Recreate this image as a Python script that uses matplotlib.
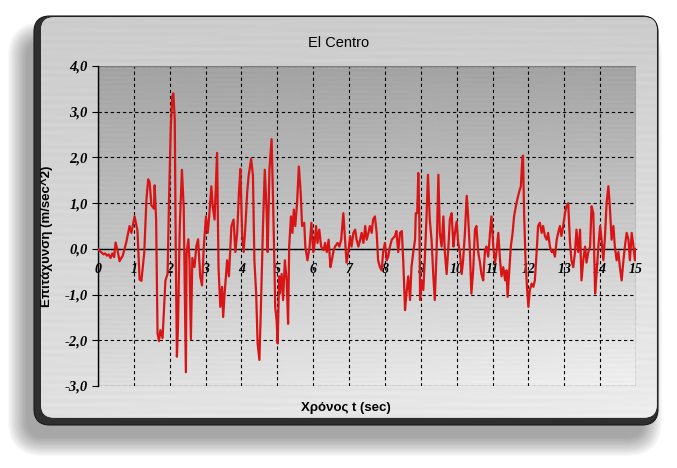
import numpy as np
import matplotlib
matplotlib.use('Agg')
import matplotlib.pyplot as plt
from matplotlib.patches import FancyBboxPatch, Rectangle

# %% Data (time in sec, acceleration in m/sec^2)
time_s = [0.0, 0.05, 0.1, 0.15, 0.2, 0.25, 0.3, 0.35, 0.4, 0.45, 0.49, 0.55, 0.6, 0.69, 0.79, 0.88, 0.93,
          1.02, 1.1, 1.16, 1.21, 1.29, 1.35, 1.4, 1.44, 1.49, 1.56, 1.58, 1.62, 1.66, 1.7, 1.74, 1.8, 1.84,
          1.88, 1.94, 1.98, 2.03, 2.07, 2.1, 2.14, 2.17, 2.2, 2.23, 2.28, 2.34, 2.39,
          2.45, 2.47, 2.52, 2.55, 2.59, 2.63, 2.69, 2.74, 2.79, 2.85, 2.9, 2.95, 3.01, 3.06, 3.1, 3.16,
          3.2, 3.25, 3.32, 3.36, 3.41, 3.46, 3.49, 3.53, 3.6, 3.65, 3.72, 3.78, 3.83, 3.88, 3.93, 3.97,
          4.02, 4.06, 4.11, 4.16, 4.2, 4.27, 4.32, 4.36, 4.41, 4.45, 4.5, 4.54, 4.6, 4.65, 4.7, 4.73,
          4.78, 4.84, 4.88, 4.92, 4.94,
          4.98, 5.01, 5.05, 5.07, 5.12, 5.16, 5.21, 5.26, 5.3, 5.33, 5.38, 5.42, 5.46, 5.5, 5.55, 5.6,
          5.65, 5.69, 5.75, 5.78, 5.84, 5.9, 5.95, 6.0, 6.03, 6.08, 6.12, 6.17, 6.22, 6.29, 6.33, 6.38,
          6.43, 6.48, 6.52, 6.57, 6.61, 6.68, 6.73, 6.78, 6.84, 6.89, 6.93, 6.98, 7.03, 7.07, 7.12, 7.17,
          7.21, 7.26, 7.31, 7.35, 7.4, 7.45,
          7.49, 7.54, 7.58, 7.63, 7.67, 7.72, 7.77, 7.81, 7.86, 7.91, 7.95, 8.0, 8.05, 8.09, 8.14, 8.19,
          8.28, 8.32, 8.37, 8.42, 8.47, 8.51, 8.56, 8.6, 8.65, 8.7, 8.74, 8.79, 8.84, 8.86, 8.9, 8.93,
          8.96, 8.98, 9.02, 9.07, 9.11, 9.16, 9.2, 9.25, 9.3, 9.35, 9.39, 9.44, 9.49, 9.53, 9.58, 9.63,
          9.67, 9.72, 9.77, 9.81, 9.86, 9.91, 9.95,
          10.0, 10.04, 10.09, 10.14, 10.18, 10.23, 10.28, 10.32, 10.37, 10.41, 10.46, 10.51, 10.55, 10.6,
          10.65, 10.69, 10.74, 10.79, 10.83, 10.88, 10.93, 10.97, 11.02, 11.07, 11.11, 11.16, 11.21,
          11.25, 11.3, 11.35, 11.39, 11.42, 11.46, 11.51, 11.56, 11.6, 11.65, 11.69, 11.74, 11.79, 11.83,
          11.85, 11.88, 11.92, 11.96, 12.0, 12.04, 12.09, 12.14, 12.18, 12.23, 12.27, 12.32, 12.37,
          12.41, 12.46,
          12.51, 12.55, 12.6, 12.65, 12.69, 12.74, 12.79, 12.83, 12.88, 12.92, 12.97, 13.02, 13.06,
          13.11, 13.16, 13.2, 13.25, 13.3, 13.34, 13.39, 13.44, 13.48, 13.53, 13.58, 13.62, 13.67,
          13.72, 13.76, 13.81, 13.86, 13.9, 13.95, 14.0, 14.04, 14.09, 14.13, 14.18, 14.23, 14.27,
          14.32, 14.37, 14.41, 14.46, 14.51, 14.55, 14.6, 14.65, 14.69, 14.74, 14.79, 14.83, 14.88,
          14.93, 14.97, 15.0]

accel = [0.0, -0.05, -0.08, -0.12, -0.1, -0.15, -0.12, -0.2, -0.1, -0.18, 0.14, -0.05, -0.27, -0.15,
         0.15, 0.5, 0.35, 0.71, 0.4, -0.67, -0.7, -0.08, 1.08, 1.52, 1.45, 0.95, 0.88, 1.39, 0.65,
         -1.84, -2.02, -1.78, -1.95, -1.34, -0.69, -0.55, 1.08, 2.68, 3.33, 3.4, 2.83, -0.23, -2.36,
         -1.7, 0.5, 1.73, 0.9,
         -2.7, -0.1, 0.21, -0.25, -1.98, -0.2, -0.4, 0.05, 0.21, -0.6, -0.8, 0.05, 0.71, 0.35, 0.71,
         1.37, 0.93, 0.64, 2.1, -0.4, -1.27, -0.83, -1.49, -0.98, -0.25, -0.6, 0.5, 0.64, -0.07, 0.35,
         1.24, 1.75, 0.28, -0.07, 0.5, 1.24, 1.6, 1.97, 1.6, -0.25, -0.98, -2.07, -2.43, -1.34, 0.5,
         1.73, 0.86, -0.07, 1.73, 2.4, 1.09, -0.4, -1.27,
         -1.57, -2.07, -0.6, -0.98, -0.55, -1.12, -0.25, -0.69, -1.64, 0.05, 0.71, 0.35, 0.86, 0.5,
         1.0, 1.8, 1.24, 0.5, 0.57, 0.05, -0.25, 0.05, 0.57, -0.07, 0.05, 0.5, 0.13, 0.42, 0.05,
         -0.03, 0.13, -0.07, 0.2, -0.4, -0.25, -0.03, 0.05, 0.13, 0.05, 0.2, 0.78, 0.2, -0.3, -0.07,
         0.28, 0.05, 0.35, 0.42, 0.2, 0.05, 0.2, 0.35, 0.13, 0.5,
         0.2, 0.35, 0.5, 0.35, 0.64, 0.71, 0.35, -0.25, -0.4, -0.47, -0.07, 0.13, -0.25, -0.17, 0.05,
         0.2, 0.28, 0.39, -0.07, 0.35, 0.39, -0.25, -1.34, -0.98, -0.6, -1.12, -0.4, -0.07, 0.2, 0.78,
         0.78, 1.66, 0.64, -1.12, -0.69, -0.9, -0.25, 0.71, 1.62, 0.64, 0.2, -0.6, -1.12, -0.07, 1.62,
         0.35, 0.05, 0.71, -0.07, -0.55, 0.05, 0.64, 0.78, 0.05, 0.35,
         0.6, 0.15, -0.07, -0.55, -0.25, 0.35, 1.16, 0.71, -0.07, -0.98, -0.47, 0.42, 0.5, -0.07, -0.3,
         -0.55, -0.69, -0.03, 0.05, -0.17, 0.35, 0.71, 0.05, -0.3, -0.07, 0.35, -0.25, -0.6, -0.4,
         -0.69, -0.47, -1.05, -0.55, 0.05, 0.35, 0.71, 0.93, 1.08, 1.24, 1.37, 1.97, 2.04, 0.78, -0.25,
         -0.83, -1.27, -0.9, -0.76, -0.83, -0.69, -0.07, 0.5, 0.57, 0.35, 0.5, 0.28,
         0.2, 0.35, 0.05, -0.07, -0.03, -0.17, 0.2, 0.35, 0.5, 0.28, 0.5, 0.78, 0.93, 1.0, 0.13, -0.25,
         -0.4, -0.07, 0.42, -0.07, 0.42, -0.69, -0.25, 0.05, -0.3, -0.07, 0.05, 0.93, 0.78, -0.98,
         -0.55, 0.05, 0.5, 0.2, -0.25, 0.2, 1.0, 1.37, 0.93, 0.2, 0.5, 0.05, -0.25, -0.07, -0.4, -0.69,
         -0.25, 0.05, 0.35, 0.2, -0.25, 0.35, 0.05, -0.25, 0.0]

x_ticks = list(range(0, 16))
y_ticks = [-3, -2, -1, 0, 1, 2, 3, 4]
y_tick_labels = ['-3,0', '-2,0', '-1,0', '0,0', '1,0', '2,0', '3,0', '4,0']

title = 'El Centro'
x_title = 'Χρόνος t (sec)'
y_title = 'Επιτάχυνση (m/sec^2)'

# %% Figure and metallic panel (drawn in pixel coordinates)
W, H = 677, 468
fig = plt.figure(figsize=(W / 100, H / 100), dpi=100)
fig.patch.set_facecolor('white')

bg = fig.add_axes([0, 0, 1, 1])
bg.set_xlim(0, W)
bg.set_ylim(H, 0)
bg.axis('off')

# soft drop shadow (down and to the left)
for i in range(14):
    g = i * 1.4
    bg.add_patch(FancyBboxPatch((26 - g, 40 - g), 618 + 2 * g, 398 + 2 * g,
                                boxstyle='round,pad=0,rounding_size=%d' % (18 + g),
                                fc='black', ec='none', alpha=0.028, zorder=1))

# dark bevel body
panel_x0, panel_y0, panel_x1, panel_y1 = 34, 16, 658, 425
bg.add_patch(FancyBboxPatch((panel_x0, panel_y0), panel_x1 - panel_x0, panel_y1 - panel_y0,
                            boxstyle='round,pad=0,rounding_size=16',
                            fc='#2e2e2e', ec='#1a1a1a', lw=0.8, zorder=2))

# light brushed face
face = FancyBboxPatch((panel_x0 + 7, panel_y0 + 1.2), panel_x1 - panel_x0 - 8.2,
                      panel_y1 - panel_y0 - 8.5,
                      boxstyle='round,pad=0,rounding_size=13',
                      fc='#d4d4d4', ec='none', zorder=3)
bg.add_patch(face)
yy, xx = np.mgrid[0:1:200j, 0:1:300j]
shade = 0.80 + 0.08 * yy + 0.05 * xx * yy
rows = np.arange(200)[:, None]
shade = shade + 0.015 * np.sin(rows * 1.7) * np.cos(rows * 0.23 + xx * 9)
img = bg.imshow(np.clip(shade, 0, 1), cmap='gray', vmin=0, vmax=1, aspect='auto',
                extent=(panel_x0, panel_x1, panel_y1, panel_y0), zorder=3.5,
                interpolation='bilinear')
img.set_clip_path(face)

# %% Plot area
ax = fig.add_axes([98 / W, 1 - 386 / H, (636 - 98) / W, (386 - 66) / H])
ax.set_zorder(5)
ax.set_xlim(0, 15)
ax.set_ylim(-3, 4)

py, px = np.mgrid[0:1:200j, 0:1:300j]
area = 0.64 + 0.23 * py + 0.07 * px * py
area = area + 0.012 * np.sin(np.arange(200)[:, None] * 2.1) * np.cos(px * 13)
ax.imshow(np.clip(area, 0, 1), cmap='gray', vmin=0, vmax=1, aspect='auto',
          extent=(0, 15, -3, 4), origin='upper', zorder=0, interpolation='bilinear')

ax.set_xticks(x_ticks)
ax.set_yticks(y_ticks)
ax.set_yticklabels(y_tick_labels)
ax.grid(True, color='black', linestyle=(0, (3, 2.5)), linewidth=0.8, zorder=1)

ax.plot(time_s, accel, color='#d81414', linewidth=1.6, zorder=3)

# frame
for side in ['top', 'right']:
    ax.spines[side].set_visible(False)
ax.add_patch(Rectangle((0, 0), 1, 1, transform=ax.transAxes, fill=False,
                       ec='#7a7a7a', lw=0.9, zorder=2))
ax.spines['left'].set_color('black')
ax.spines['left'].set_linewidth(1.0)
ax.spines['bottom'].set_position(('data', 0))
ax.spines['bottom'].set_color('black')
ax.spines['bottom'].set_linewidth(1.0)
ax.spines['bottom'].set_zorder(2.5)

ax.tick_params(axis='y', direction='out', length=4, width=0.8, pad=3.5, labelsize=10.5)
ax.tick_params(axis='x', length=0, pad=10, labelsize=10)
for lab in ax.get_xticklabels() + ax.get_yticklabels():
    lab.set_fontfamily('Liberation Serif')
    lab.set_fontweight('bold')
    lab.set_fontstyle('italic')

# %% Titles
fig.text(339 / W, 1 - 43 / H, title, ha='center', va='center',
         family='Liberation Sans', fontsize=10.5, zorder=10)
fig.text(346 / W, 1 - 408 / H, x_title, ha='center', va='center',
         family='Liberation Sans', weight='bold', fontsize=9.5, zorder=10)
fig.text(47 / W, 1 - 236 / H, y_title, ha='center', va='center', rotation=90,
         family='Liberation Sans', weight='bold', fontsize=9.5, zorder=10)

fig.savefig('out.png', dpi=100)
